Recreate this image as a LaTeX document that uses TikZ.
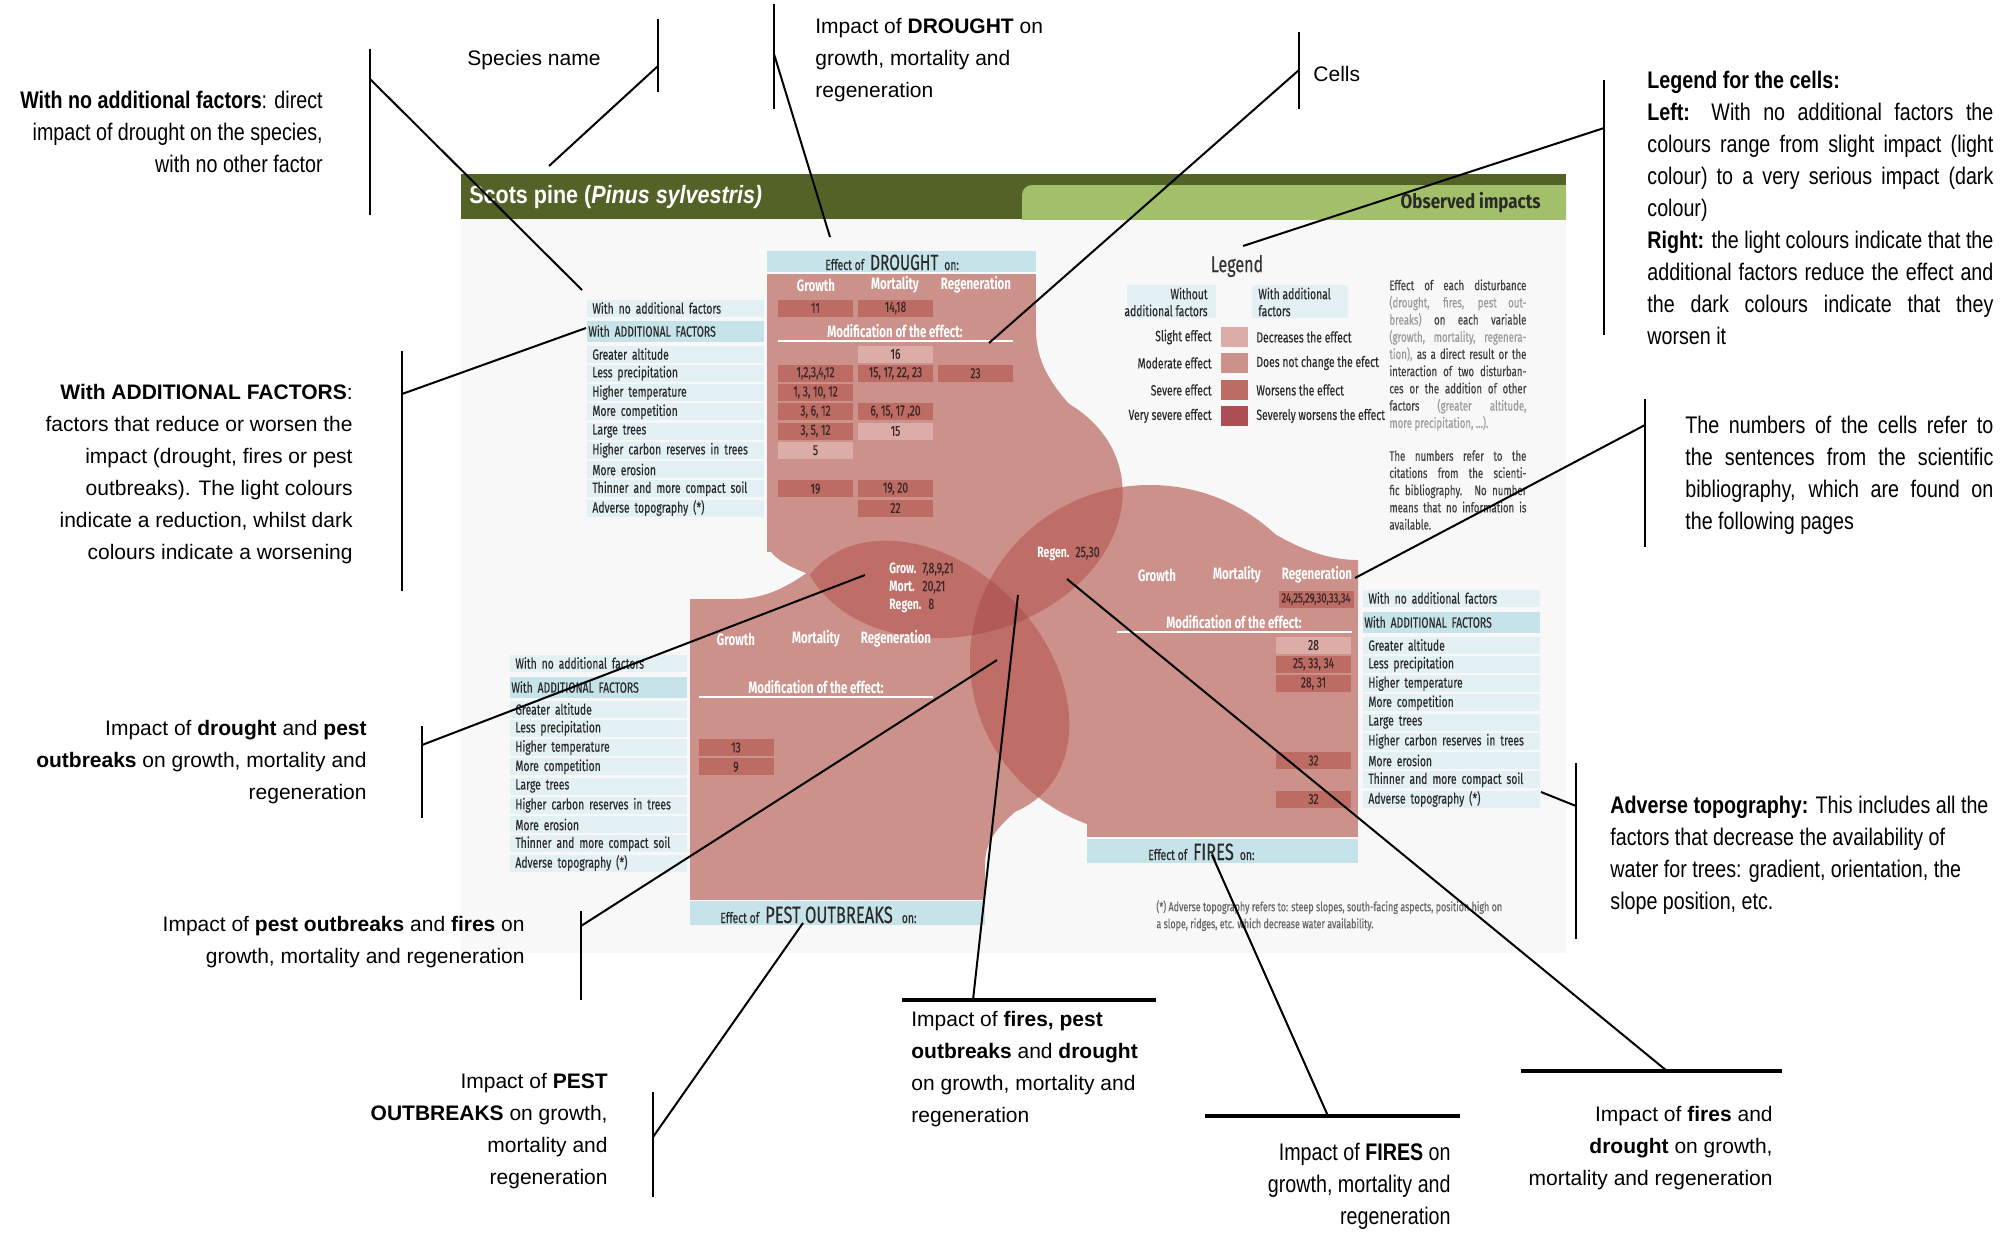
\documentclass[tikz,border=0pt]{standalone}
\usepackage{fontspec}
\setmainfont{Liberation Sans}
\newfontfamily\fA{Liberation Sans}
\newfontfamily\fN[FakeStretch=0.82]{Liberation Sans}
\newfontfamily\fC[FakeStretch=0.70, UprightFeatures={FakeBold=0.25}]{Fira Sans}
\newfontfamily\fCw[FakeStretch=0.85]{Fira Sans}
\newfontfamily\fT[FakeStretch=0.86]{Liberation Sans}
\newcommand\fsz[2]{\fontsize{#1}{#2}\selectfont}
\definecolor{modc}{HTML}{CC918A}
\definecolor{sevc}{HTML}{BD6C64}
\definecolor{slic}{HTML}{DCACA6}
\definecolor{vsevc}{HTML}{AC4F52}
\definecolor{lensc}{HTML}{BE6E67}
\definecolor{tric}{HTML}{B25B56}
\definecolor{lblue}{HTML}{E4F1F4}
\definecolor{hblue}{HTML}{C6E3EA}
\definecolor{panel}{HTML}{F8F8F8}
\definecolor{gdark}{HTML}{536328}
\definecolor{glight}{HTML}{A2C069}
\definecolor{txt}{HTML}{2A2A2A}
\definecolor{numc}{HTML}{3A2626}
\definecolor{greyt}{HTML}{9A9A9A}
\newcommand\cellnode[5]{\node[cellbox, fill=#4] (#1) at (#2,#3) {#5};}
\newcommand\factortable[5]{%
  \node[lab] (#1-none) at (#2,#3) {With no additional factors};
  \node[labh] (#1-add) at (#2,#4) {With ADDITIONAL FACTORS};
  \foreach \t [count=\i from 0] in {Greater altitude, Less precipitation, Higher temperature, More competition, Large trees, Higher carbon reserves in trees, More erosion, Thinner and more compact soil, Adverse topography (*)}
    \node[lab] (#1-\i) at (#2,#5+19.25*\i) {\t};
}
\begin{document}
\begin{tikzpicture}[x=0.5pt,y=-0.5pt,
  cellbox/.style={minimum width=37.5pt, minimum height=8.5pt, inner sep=0pt, font=\fC\fsz{7.3}{8}, text=numc},
  lab/.style={fill=lblue, anchor=west, minimum height=8.5pt, inner ysep=0pt, inner xsep=2.5pt, text width=83.5pt, align=left, font=\fC\fsz{7.4}{8}, text=txt},
  labh/.style={lab, fill=hblue, minimum height=10.5pt, inner xsep=0.5pt, text width=87.5pt},
  colh/.style={font=\fC\bfseries\fsz{8.2}{9}, text=white, inner sep=0pt},
  modline/.style={white, line width=1pt},
  effbox/.style={fill=hblue, inner sep=0pt, anchor=north west},
  efftxt/.style={inner sep=0pt, anchor=base west, text=txt, font=\fC},
  legl/.style={inner sep=0pt, font=\fC\fsz{7.4}{8.5}, text=txt},
  swatch/.style={minimum width=13.5pt, minimum height=10pt, inner sep=0pt},
  ann/.style={inner sep=0pt, font=\fA\fsz{10.5}{16}, text=black},
  annN/.style={inner sep=0pt, font=\fN\fsz{12}{16}, text=black},
  bar/.style={line width=1.2pt},
  diag/.style={line width=1pt},
  hbar/.style={line width=2pt},
  lensw/.style={inner sep=0pt, anchor=base west, font=\fC\bfseries\fsz{7.5}{8}, text=white},
  lensn/.style={inner sep=0pt, anchor=base west, font=\fC\fsz{7.5}{8}, text=numc}
]
\useasboundingbox (0,0) rectangle (2003,1232);
\fill[white] (0,0) rectangle (2003,1232);
\fill[panel] (461,175) rectangle (1566,953);
% header
\fill[gdark] (461,174) rectangle (1566,219);
\begin{scope}
  \clip (1000,185) rectangle (1566,219);
  \fill[glight, rounded corners=5pt] (1022,185) rectangle (1600,260);
\end{scope}
\node[anchor=west, text=white, font=\fT\bfseries\fsz{12.5}{14}, inner sep=0pt] (title) at (469,197) {Scots pine (\textit{Pinus sylvestris)}};
\node[anchor=east, text=txt, font=\fCw\bfseries\fsz{10}{12}, inner sep=0pt] (obs) at (1541,203) {Observed impacts};

% ---------- regions (base) ----------
\fill[modc] (767,274) rectangle (1036,552);
\fill[modc] (690,599) rectangle (985,900);
\fill[modc] (1087,560) rectangle (1358,837);
\fill[modc, rotate around={15:(960,510)}] (960,510) ellipse [x radius=165, y radius=125];
\fill[modc, rotate around={-45:(930,680)}] (930,680) ellipse [x radius=160, y radius=115];
\fill[modc] (1150,660) ellipse [x radius=180, y radius=175];
% fillets
\fill[modc] (1036,330) .. controls (1036,362) and (1052,385) .. (1070,405) -- (1036,430) -- cycle;
\fill[modc] (767,540) .. controls (767,556) and (787,566) .. (811,575) -- (811,540) -- cycle;
\fill[modc] (735,599) .. controls (768,599) and (792,584) .. (815,567) -- (830,620) -- (735,620) -- cycle;
\fill[modc] (985,865) .. controls (985,838) and (1000,825) .. (1025,803) -- (985,790) -- cycle;
\fill[modc] (1265,528) .. controls (1298,549) and (1328,560) .. (1358,560) -- (1358,600) -- (1265,600) -- cycle;
% lenses
\begin{scope}
  \clip[rotate around={15:(960,510)}] (960,510) ellipse [x radius=165, y radius=125];
  \fill[lensc, rotate around={-45:(930,680)}] (930,680) ellipse [x radius=160, y radius=115];
  \fill[lensc] (1150,660) ellipse [x radius=180, y radius=175];
\end{scope}
\begin{scope}
  \clip[rotate around={-45:(930,680)}] (930,680) ellipse [x radius=160, y radius=115];
  \fill[lensc] (1150,660) ellipse [x radius=180, y radius=175];
\end{scope}
\begin{scope}
  \clip[rotate around={15:(960,510)}] (960,510) ellipse [x radius=165, y radius=125];
  \clip[rotate around={-45:(930,680)}] (930,680) ellipse [x radius=160, y radius=115];
  \fill[tric] (1150,660) ellipse [x radius=180, y radius=175];
\end{scope}

% ---------- effect headers ----------
\node[effbox, minimum width=134.5pt, minimum height=10.5pt] (dbox) at (767,251) {};
\node[efftxt] (dtxt) at (825,270) {\fsz{7.4}{8}Effect of\hspace{3pt}\fsz{11}{12}DROUGHT\hspace{3pt}\fsz{7.4}{8}on:};
\node[effbox, minimum width=147.5pt, minimum height=12pt] (pbox) at (690,901) {};
\node[efftxt] (ptxt) at (720,923) {\fsz{7.4}{8}Effect of\hspace{3pt}\fsz{11.8}{12}PEST OUTBREAKS\hspace{4.5pt}\fsz{7.4}{8}on:};
\node[effbox, minimum width=135.5pt, minimum height=12pt] (fbox) at (1087,839) {};
\node[efftxt] (ftxt) at (1148,860) {\fsz{7.4}{8}Effect of\hspace{3pt}\fsz{11.8}{12}FIRES\hspace{3pt}\fsz{7.4}{8}on:};

% ---------- drought table ----------
\factortable{dl}{587}{308}{331}{354}
\node[colh] (dcg) at (816,285) {Growth};
\node[colh] (dcm) at (895,285) {Mortality};
\node[colh] (dcr) at (976,285) {Regeneration};
\node[colh] (dmod) at (895,331) {Modification of the effect:};
\draw[modline] (778,341) -- (1013,341);
\cellnode{d-n-g}{815.5}{308}{sevc}{11}
\cellnode{d-n-m}{895.5}{308}{sevc}{14,18}
\cellnode{d-0-m}{895.5}{354}{slic}{16}
\cellnode{d-1-g}{815.5}{373.25}{sevc}{1,2,3,4,12}
\cellnode{d-1-m}{895.5}{373.25}{sevc}{15, 17, 22, 23}
\cellnode{d-1-r}{975.5}{373.25}{sevc}{23}
\cellnode{d-2-g}{815.5}{392.5}{sevc}{1, 3, 10, 12}
\cellnode{d-3-g}{815.5}{411.75}{sevc}{3, 6, 12}
\cellnode{d-3-m}{895.5}{411.75}{sevc}{6, 15, 17 ,20}
\cellnode{d-4-g}{815.5}{431}{sevc}{3, 5, 12}
\cellnode{d-4-m}{895.5}{431}{slic}{15}
\cellnode{d-5-g}{815.5}{450.25}{slic}{5}
\cellnode{d-7-g}{815.5}{488.75}{sevc}{19}
\cellnode{d-7-m}{895.5}{488.75}{sevc}{19, 20}
\cellnode{d-8-m}{895.5}{508}{sevc}{22}

% ---------- pest table ----------
\factortable{pl}{510}{663}{687}{709}
\node[colh] (pcg) at (736,639) {Growth};
\node[colh] (pcm) at (816,639) {Mortality};
\node[colh] (pcr) at (896,639) {Regeneration};
\node[colh] (pmod) at (816,687) {Modification of the effect:};
\draw[modline] (699,697) -- (933,697);
\cellnode{p-2-g}{736}{747.5}{sevc}{13}
\cellnode{p-3-g}{736}{766.75}{sevc}{9}

% ---------- fires table ----------
\factortable{fl}{1363}{598}{622}{645}
\node[colh] (fcg) at (1157,575) {Growth};
\node[colh] (fcm) at (1237,575) {Mortality};
\node[colh] (fcr) at (1317,575) {Regeneration};
\node[colh] (fmod) at (1234,622) {Modification of the effect:};
\draw[modline] (1117,632) -- (1352,632);
\cellnode{f-n-r}{1316}{599}{sevc}{\fsz{6.8}{8}24,25,29,30,33,34}
\cellnode{f-0-r}{1313.5}{645}{slic}{28}
\cellnode{f-1-r}{1313.5}{664.25}{sevc}{25, 33, 34}
\cellnode{f-2-r}{1313.5}{683.5}{sevc}{28, 31}
\cellnode{f-6-r}{1313.5}{760.5}{sevc}{32}
\cellnode{f-8-r}{1313.5}{799}{sevc}{32}

% ---------- lens labels ----------
\node[lensw] (lg) at (889,573) {Grow.};
\node[lensn] (lgn) at (922,573) {7,8,9,21};
\node[lensw] (lm) at (889,591) {Mort.};
\node[lensn] (lmn) at (922,591) {20,21};
\node[lensw] (lr) at (889,609) {Regen.};
\node[lensn] (lrn) at (928,609) {8};
\node[lensw] (lr2) at (1037,557) {Regen.};
\node[lensn] (lr2n) at (1075,557) {25,30};

% ---------- legend ----------
\node[legl, font=\fC\fsz{11.5}{12}, text=black!80] (legt) at (1237,266) {Legend};
\node[fill=lblue, minimum width=44.5pt, minimum height=16.5pt, inner sep=0pt, anchor=north west] (lhb1) at (1127,285) {};
\node[legl, anchor=east, align=right] (lh1) at (1208,302) {Without\\additional factors};
\node[fill=lblue, minimum width=48pt, minimum height=16.5pt, inner sep=0pt, anchor=north west] (lhb2) at (1252,285) {};
\node[legl, anchor=west, align=left] (lh2) at (1258,302) {With additional\\factors};
\node[swatch, fill=slic] (sw1) at (1234.5,337) {};
\node[swatch, fill=modc] (sw2) at (1234.5,363) {};
\node[swatch, fill=sevc] (sw3) at (1234.5,390) {};
\node[swatch, fill=vsevc] (sw4) at (1234.5,416) {};
\node[legl, anchor=east] (ll1) at (1212,337) {Slight effect};
\node[legl, anchor=east] (ll2) at (1212,363) {Moderate effect};
\node[legl, anchor=east] (ll3) at (1212,390) {Severe effect};
\node[legl, anchor=east] (ll4) at (1212,416) {Very severe effect};
\node[legl, anchor=west] (lr1) at (1256,337) {Decreases the effect};
\node[legl, anchor=west] (lr2x) at (1256,363) {Does not change the efect};
\node[legl, anchor=west] (lr3) at (1256,390) {Worsens the effect};
\node[legl, anchor=west] (lr4) at (1256,416) {Severely worsens the effect};
\node[inner sep=0pt, anchor=north west, align=left, font=\fC\fsz{6.9}{8.6}, text=black!75] (legpar) at (1389,279) {%
\makebox[68.5pt][s]{Effect of each disturbance}\\
\makebox[68.5pt][s]{\color{greyt}(drought, fires, pest out-}\\
\makebox[68.5pt][s]{{\color{greyt}breaks)} on each variable}\\
\makebox[68.5pt][s]{\color{greyt}(growth, mortality, regenera-}\\
\makebox[68.5pt][s]{{\color{greyt}tion),} as a direct result or the}\\
\makebox[68.5pt][s]{interaction of two disturban-}\\
\makebox[68.5pt][s]{ces or the addition of other}\\
\makebox[68.5pt][s]{factors {\color{greyt}(greater altitude,}}\\
{\color{greyt}more precipitation, ...).}\\[7.9pt]
\makebox[68.5pt][s]{The numbers refer to the}\\
\makebox[68.5pt][s]{citations from the scienti-}\\
\makebox[68.5pt][s]{fic bibliography. No number}\\
\makebox[68.5pt][s]{means that no information is}\\
available.};
\node[inner sep=0pt, anchor=north west, align=left, font=\fC\fsz{6.4}{8.5}, text=black!60] (foot) at (1156,900) {(*) Adverse topography refers to: steep slopes, south-facing aspects, position high on\\a slope, ridges, etc. which decrease water availability.};

% ---------- annotations ----------
\node[ann, anchor=base west] (t1) at (467,65) {Species name};
\node[annN, anchor=north east, align=right] (t2) at (323,91) {\textbf{With no additional factors}: direct\\impact of drought on the species,\\with no other factor};
\node[ann, anchor=north west, align=left] (t3) at (815,18) {Impact of \textbf{DROUGHT} on\\growth, mortality and\\regeneration};
\node[ann, anchor=base west] (t4) at (1313,81) {Cells};
\node[annN, anchor=north west, align=left] (t5) at (1647,71) {\textbf{Legend for the cells:}\\
\makebox[173pt][s]{\textbf{Left:} With no additional factors the}\\
\makebox[173pt][s]{colours range from slight impact (light}\\
\makebox[173pt][s]{colour) to a very serious impact (dark}\\
colour)\\
\makebox[173pt][s]{\textbf{Right:} the light colours indicate that the}\\
\makebox[173pt][s]{additional factors reduce the effect and}\\
\makebox[173pt][s]{the dark colours indicate that they}\\
worsen it};
\node[ann, anchor=north east, align=right] (t6) at (353,384) {\textbf{With ADDITIONAL FACTORS}:\\factors that reduce or worsen the\\impact (drought, fires or pest\\outbreaks). The light colours\\indicate a reduction, whilst dark\\colours indicate a worsening};
\node[ann, anchor=north east, align=right] (t7) at (367,720) {Impact of \textbf{drought} and \textbf{pest}\\\textbf{outbreaks} on growth, mortality and\\regeneration};
\node[ann, anchor=north east, align=right] (t8) at (525,916) {Impact of \textbf{pest outbreaks} and \textbf{fires} on\\growth, mortality and regeneration};
\node[ann, anchor=north east, align=right] (t9) at (608,1073) {Impact of \textbf{PEST}\\\textbf{OUTBREAKS} on growth,\\mortality and\\regeneration};
\node[annN, anchor=north west, align=left] (t10) at (1685,416) {\makebox[154pt][s]{The numbers of the cells refer to}\\\makebox[154pt][s]{the sentences from the scientific}\\\makebox[154pt][s]{bibliography, which are found on}\\the following pages};
\node[annN, anchor=north west, align=left] (t11) at (1610,796) {\textbf{Adverse topography:} This includes all the\\factors that decrease the availability of\\water for trees: gradient, orientation, the\\slope position, etc.};
\node[ann, anchor=north west, align=left] (t12) at (911,1011) {Impact of \textbf{fires, pest}\\\textbf{outbreaks} and \textbf{drought}\\on growth, mortality and\\regeneration};
\node[annN, anchor=north east, align=right] (t13) at (1451,1143) {Impact of \textbf{FIRES} on\\growth, mortality and\\regeneration};
\node[ann, anchor=north east, align=right] (t14) at (1773,1106) {Impact of \textbf{fires} and\\\textbf{drought} on growth,\\mortality and regeneration};

% ---------- connectors ----------
\coordinate (b1a) at (658,19);   \coordinate (b1b) at (658,92);   \coordinate (b1m) at (658,66);   \coordinate (b1e) at (549,166);
\coordinate (b2a) at (370,49);   \coordinate (b2b) at (370,215);  \coordinate (b2m) at (370,79);   \coordinate (b2e) at (582,290);
\coordinate (b3a) at (774,4);    \coordinate (b3b) at (774,109);  \coordinate (b3m) at (774,54);   \coordinate (b3e) at (830,237);
\coordinate (b4a) at (1299,32);  \coordinate (b4b) at (1299,109); \coordinate (b4m) at (1299,70);  \coordinate (b4e) at (989,343);
\coordinate (b5a) at (1604,80);  \coordinate (b5b) at (1604,335); \coordinate (b5m) at (1604,128); \coordinate (b5e) at (1243,246);
\coordinate (b6a) at (402,351);  \coordinate (b6b) at (402,591);  \coordinate (b6m) at (402,394);  \coordinate (b6e) at (586,328);
\coordinate (b7a) at (422,726);  \coordinate (b7b) at (422,818);  \coordinate (b7m) at (422,745);  \coordinate (b7e) at (865,575);
\coordinate (b8a) at (581,911);  \coordinate (b8b) at (581,1000); \coordinate (b8m) at (581,926);  \coordinate (b8e) at (997,660);
\coordinate (b9a) at (653,1092); \coordinate (b9b) at (653,1197); \coordinate (b9m) at (653,1137); \coordinate (b9e) at (803,923);
\coordinate (b10a) at (1645,399); \coordinate (b10b) at (1645,547); \coordinate (b10m) at (1645,425); \coordinate (b10e) at (1355,578);
\coordinate (b11a) at (1576,763); \coordinate (b11b) at (1576,939); \coordinate (b11m) at (1576,806); \coordinate (b11e) at (1541,792);
\coordinate (b12a) at (902,1000); \coordinate (b12b) at (1156,1000); \coordinate (b12m) at (973,1000); \coordinate (b12e) at (1018,595);
\coordinate (b13a) at (1205,1116); \coordinate (b13b) at (1460,1116); \coordinate (b13m) at (1328,1116); \coordinate (b13e) at (1212,855);
\coordinate (b14a) at (1521,1071); \coordinate (b14b) at (1782,1071); \coordinate (b14m) at (1667,1071); \coordinate (b14e) at (1067,579);
\foreach \k in {1,...,11} {
  \draw[bar] (b\k a) -- (b\k b);
  \draw[diag] (b\k m) -- (b\k e);
}
\foreach \k in {12,13,14} {
  \draw[hbar] (b\k a) -- (b\k b);
  \draw[diag] (b\k m) -- (b\k e);
}
\end{tikzpicture}
\end{document}
